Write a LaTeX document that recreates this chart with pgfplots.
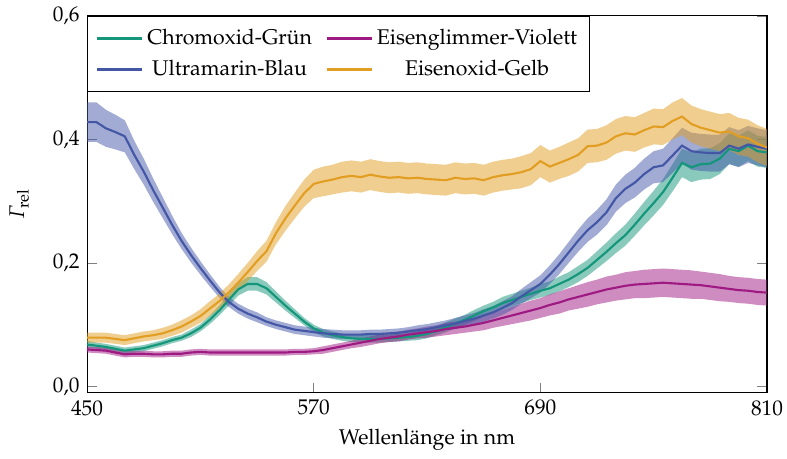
\documentclass[border=0pt]{standalone}
\usepackage[T1]{fontenc}
\usepackage{mathpazo}
\usepackage{pgfplots}
\usepackage{pgfplotstable}
\pgfplotsset{compat=1.18}
\usepgfplotslibrary{fillbetween}

\definecolor{cgruen}{RGB}{19,150,122}
\definecolor{cblau}{RGB}{68,87,167}
\definecolor{cviolett}{RGB}{158,26,130}
\definecolor{cgelb}{RGB}{226,158,34}

% italic capital Gamma from the math letters font
\newcommand{\itGamma}{\mathchar"0100}

% wavelength, mean, half width of the band
\pgfplotstableread{
x m e
450 0.068 0.006
455 0.066 0.005
460 0.064 0.005
465 0.061 0.005
470 0.058 0.005
475 0.060 0.005
480 0.062 0.005
485 0.066 0.005
490 0.070 0.005
495 0.075 0.005
500 0.079 0.005
505 0.086 0.006
510 0.095 0.006
515 0.108 0.007
520 0.123 0.008
525 0.140 0.009
530 0.157 0.010
535 0.166 0.011
540 0.166 0.011
545 0.159 0.010
550 0.145 0.009
555 0.131 0.008
560 0.118 0.007
565 0.105 0.006
570 0.094 0.006
575 0.087 0.006
580 0.083 0.006
585 0.080 0.006
590 0.078 0.006
595 0.077 0.006
600 0.077 0.006
605 0.077 0.006
610 0.078 0.006
615 0.079 0.006
620 0.080 0.006
625 0.082 0.007
630 0.085 0.007
635 0.090 0.007
640 0.096 0.008
645 0.102 0.008
650 0.108 0.008
655 0.115 0.009
660 0.122 0.009
665 0.128 0.009
670 0.135 0.010
675 0.140 0.010
680 0.145 0.010
685 0.150 0.010
690 0.155 0.011
695 0.159 0.011
700 0.166 0.012
705 0.173 0.012
710 0.182 0.013
715 0.192 0.013
720 0.205 0.014
725 0.218 0.015
730 0.232 0.016
735 0.245 0.017
740 0.262 0.018
745 0.280 0.019
750 0.297 0.020
755 0.315 0.021
760 0.338 0.022
765 0.362 0.023
770 0.355 0.024
775 0.360 0.025
780 0.361 0.025
785 0.369 0.025
790 0.385 0.025
795 0.381 0.025
800 0.390 0.025
805 0.381 0.025
810 0.379 0.025
}\gruen

\pgfplotstableread{
x m e
450 0.060 0.005
455 0.059 0.005
460 0.058 0.005
465 0.055 0.005
470 0.052 0.005
475 0.053 0.005
480 0.053 0.005
485 0.052 0.005
490 0.052 0.005
495 0.053 0.005
500 0.053 0.005
505 0.055 0.005
510 0.056 0.005
515 0.055 0.005
520 0.055 0.005
525 0.055 0.005
530 0.055 0.005
535 0.055 0.005
540 0.055 0.005
545 0.055 0.005
550 0.055 0.005
555 0.055 0.005
560 0.056 0.005
565 0.056 0.005
570 0.057 0.005
575 0.059 0.006
580 0.062 0.006
585 0.065 0.006
590 0.068 0.006
595 0.071 0.007
600 0.074 0.007
605 0.077 0.007
610 0.079 0.007
615 0.081 0.008
620 0.084 0.008
625 0.086 0.008
630 0.088 0.009
635 0.090 0.009
640 0.093 0.010
645 0.095 0.010
650 0.097 0.010
655 0.100 0.011
660 0.103 0.012
665 0.107 0.012
670 0.111 0.013
675 0.115 0.014
680 0.119 0.015
685 0.123 0.016
690 0.127 0.016
695 0.132 0.017
700 0.136 0.018
705 0.141 0.018
710 0.145 0.019
715 0.149 0.020
720 0.153 0.020
725 0.157 0.021
730 0.160 0.021
735 0.163 0.022
740 0.165 0.022
745 0.166 0.023
750 0.167 0.023
755 0.168 0.023
760 0.167 0.023
765 0.166 0.023
770 0.165 0.023
775 0.164 0.022
780 0.162 0.022
785 0.160 0.022
790 0.158 0.021
795 0.156 0.021
800 0.155 0.021
805 0.153 0.021
810 0.152 0.021
}\violett

\pgfplotstableread{
x m e
450 0.428 0.032
455 0.428 0.032
460 0.418 0.030
465 0.412 0.028
470 0.405 0.026
475 0.375 0.023
480 0.348 0.021
485 0.318 0.019
490 0.290 0.017
495 0.262 0.015
500 0.236 0.013
505 0.213 0.012
510 0.192 0.011
515 0.172 0.010
520 0.153 0.009
525 0.137 0.008
530 0.126 0.008
535 0.118 0.008
540 0.112 0.008
545 0.105 0.007
550 0.100 0.007
555 0.096 0.007
560 0.092 0.007
565 0.090 0.007
570 0.088 0.007
575 0.086 0.007
580 0.085 0.007
585 0.084 0.007
590 0.084 0.007
595 0.084 0.007
600 0.085 0.007
605 0.085 0.007
610 0.086 0.007
615 0.087 0.007
620 0.089 0.007
625 0.091 0.008
630 0.093 0.008
635 0.096 0.008
640 0.099 0.008
645 0.102 0.009
650 0.106 0.009
655 0.110 0.009
660 0.115 0.010
665 0.120 0.010
670 0.127 0.011
675 0.135 0.011
680 0.146 0.012
685 0.156 0.013
690 0.166 0.014
695 0.181 0.015
700 0.198 0.016
705 0.217 0.017
710 0.236 0.018
715 0.253 0.019
720 0.266 0.020
725 0.282 0.021
730 0.305 0.022
735 0.320 0.023
740 0.330 0.024
745 0.344 0.025
750 0.355 0.026
755 0.358 0.027
760 0.374 0.028
765 0.390 0.029
770 0.381 0.030
775 0.379 0.030
780 0.378 0.030
785 0.378 0.030
790 0.390 0.030
795 0.385 0.030
800 0.392 0.030
805 0.388 0.030
810 0.385 0.030
}\blau

\pgfplotstableread{
x m e
450 0.079 0.008
455 0.079 0.008
460 0.079 0.008
465 0.077 0.008
470 0.075 0.008
475 0.078 0.008
480 0.081 0.008
485 0.083 0.008
490 0.086 0.009
495 0.091 0.009
500 0.097 0.010
505 0.105 0.010
510 0.114 0.011
515 0.126 0.012
520 0.138 0.012
525 0.152 0.013
530 0.168 0.014
535 0.185 0.015
540 0.203 0.016
545 0.219 0.017
550 0.248 0.018
555 0.272 0.020
560 0.293 0.021
565 0.313 0.022
570 0.328 0.023
575 0.332 0.024
580 0.335 0.024
585 0.339 0.025
590 0.341 0.025
595 0.339 0.025
600 0.343 0.025
605 0.340 0.025
610 0.338 0.025
615 0.339 0.025
620 0.337 0.025
625 0.338 0.025
630 0.336 0.025
635 0.335 0.025
640 0.334 0.025
645 0.338 0.025
650 0.336 0.025
655 0.337 0.025
660 0.334 0.025
665 0.339 0.025
670 0.342 0.025
675 0.344 0.025
680 0.347 0.026
685 0.352 0.026
690 0.365 0.026
695 0.356 0.026
700 0.362 0.026
705 0.368 0.027
710 0.375 0.027
715 0.389 0.027
720 0.390 0.027
725 0.395 0.028
730 0.405 0.028
735 0.410 0.028
740 0.408 0.028
745 0.415 0.028
750 0.421 0.029
755 0.420 0.029
760 0.430 0.030
765 0.437 0.030
770 0.425 0.030
775 0.419 0.030
780 0.415 0.030
785 0.411 0.030
790 0.413 0.030
795 0.405 0.030
800 0.402 0.030
805 0.393 0.030
810 0.387 0.030
}\gelb

% band around the mean of one table
\newcommand{\band}[2]{%
  \addplot[name path=#1o, draw=none, forget plot] table[x=x, y expr=\thisrow{m}+\thisrow{e}] {#2};
  \addplot[name path=#1u, draw=none, forget plot] table[x=x, y expr=\thisrow{m}-\thisrow{e}] {#2};
}

\begin{document}
\begin{tikzpicture}
\begin{axis}[
  scale only axis,
  width=319.5pt, height=177pt,
  xmin=450, xmax=810,
  ymin=-0.01, ymax=0.6,
  xtick={450,570,690,810},
  ytick={0,0.2,0.4,0.6},
  tick align=inside,
  major tick length=4.5pt,
  tick style={gray, line width=0.4pt},
  axis line style={line width=0.5pt},
  yticklabel style={/pgf/number format/.cd, fixed, fixed zerofill, precision=1, use comma},
  xticklabel style={/pgf/number format/1000 sep={}},
  xlabel={Wellenlänge in nm},
  ylabel={$\itGamma_{\mathrm{rel}}$},
  every axis x label/.style={at={(axis description cs:0.5,-0.124)}, anchor=center},
  every axis y label/.style={at={(axis description cs:-0.1,0.5)}, anchor=center, rotate=90},
  legend columns=2,
  legend cell align=center,
  legend style={at={(0,1)}, anchor=north west, draw=black, line width=0.5pt,
    inner xsep=4pt, inner ysep=4pt,
    /tikz/every even column/.append style={column sep=4.5pt},
    row sep=1.8pt,
    font=\normalsize},
  legend image code/.code={\draw[#1, line width=1pt] (0cm,0cm) -- (0.74cm,0cm);},
  every axis plot/.append style={line width=1pt},
]
\band{g}{\gruen}
\band{v}{\violett}
\band{b}{\blau}
\band{y}{\gelb}
\addplot[fill=cgruen, fill opacity=0.5, draw=none, forget plot] fill between[of=go and gu];
\addplot[fill=cviolett, fill opacity=0.5, draw=none, forget plot] fill between[of=vo and vu];
\addplot[fill=cblau, fill opacity=0.5, draw=none, forget plot] fill between[of=bo and bu];
\addplot[fill=cgelb, fill opacity=0.5, draw=none, forget plot] fill between[of=yo and yu];

\addplot[cgruen] table[x=x, y=m] {\gruen};
\addlegendentry{Chromoxid-Grün}
\addplot[cviolett] table[x=x, y=m] {\violett};
\addlegendentry{Eisenglimmer-Violett}
\addplot[cblau] table[x=x, y=m] {\blau};
\addlegendentry{Ultramarin-Blau}
\addplot[cgelb] table[x=x, y=m] {\gelb};
\addlegendentry{Eisenoxid-Gelb}

\coordinate (bl) at (rel axis cs:0,0);
\coordinate (tr) at (rel axis cs:1,1);
\end{axis}
\pgfresetboundingbox
\path ([xshift=-40.9pt,yshift=-31pt]bl) rectangle ([xshift=9.4pt,yshift=7.5pt]tr);
\end{tikzpicture}
\end{document}
